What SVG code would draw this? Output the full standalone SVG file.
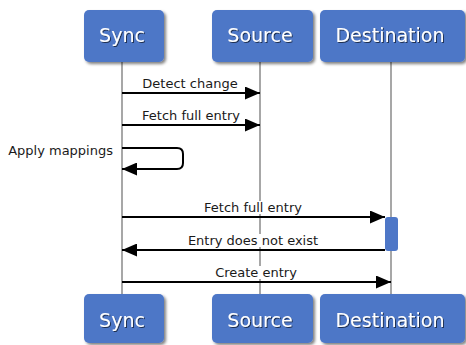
<svg xmlns="http://www.w3.org/2000/svg" width="466" height="345" viewBox="0 0 466 345">
<defs>
<filter id="sh" x="-10%" y="-10%" width="130%" height="140%">
<feGaussianBlur in="SourceAlpha" stdDeviation="1.5"/>
<feOffset dx="2" dy="2" result="b"/>
<feComponentTransfer><feFuncA type="linear" slope="0.5"/></feComponentTransfer>
<feMerge><feMergeNode/><feMergeNode in="SourceGraphic"/></feMerge>
</filter>
<filter id="tsh" x="-10%" y="-20%" width="130%" height="150%">
<feGaussianBlur in="SourceAlpha" stdDeviation="0.6"/>
<feOffset dx="0.8" dy="0.8"/>
<feComponentTransfer><feFuncA type="linear" slope="0.6"/></feComponentTransfer>
<feMerge><feMergeNode/><feMergeNode in="SourceGraphic"/></feMerge>
</filter>
<marker id="ah" markerWidth="15" markerHeight="13" refX="15" refY="6.5" orient="auto" markerUnits="userSpaceOnUse">
<path d="M0,0 L15,6.5 L0,13 Z" fill="#000"/>
</marker>
</defs>
<style>
.box{fill:#4e77c7;filter:url(#sh)}
.bt{font-family:"DejaVu Sans",sans-serif;font-size:19px;fill:#fff;text-anchor:middle;filter:url(#tsh)}
.life{stroke:#8a8a8a;stroke-width:1.5;fill:none}
.msg{stroke:#000;stroke-width:2;fill:none;marker-end:url(#ah)}
.ml{font-family:"DejaVu Sans",sans-serif;font-size:13px;fill:#1a1a1a;text-anchor:middle}
.bg{fill:#fff}
</style>
<rect width="466" height="345" fill="#fff"/>
<g id="lifelines">
<line class="life" x1="122" y1="62" x2="122" y2="294"/>
<line class="life" x1="260" y1="62" x2="260" y2="294"/>
<line class="life" x1="391" y1="62" x2="391" y2="294"/>
</g>
<g id="sync-top"><rect class="box" x="84" y="10" width="80" height="52" rx="5"/><text class="bt" x="122" y="42">Sync</text></g>
<g id="source-top"><rect class="box" x="212" y="10" width="101" height="52" rx="5"/><text class="bt" x="260" y="42">Source</text></g>
<g id="dest-top"><rect class="box" x="320" y="10" width="145" height="52" rx="5"/><text class="bt" x="390" y="42">Destination</text></g>
<g id="sync-bottom"><rect class="box" x="84" y="294" width="80" height="49" rx="5"/><text class="bt" x="122" y="327">Sync</text></g>
<g id="source-bottom"><rect class="box" x="212" y="294" width="101" height="49" rx="5"/><text class="bt" x="260" y="327">Source</text></g>
<g id="dest-bottom"><rect class="box" x="320" y="294" width="145" height="49" rx="5"/><text class="bt" x="390" y="327">Destination</text></g>
<g id="activation"><rect x="385" y="217" width="13" height="34" rx="3" fill="#4e77c7"/></g>
<g id="connectors">
<line class="msg" x1="122" y1="93" x2="260" y2="93"/>
<text class="ml" x="190" y="88">Detect change</text>
<line class="msg" x1="122" y1="125" x2="260" y2="125"/>
<text class="ml" x="191" y="120">Fetch full entry</text>
<path class="msg" d="M122,148 H177 Q183,148 183,154 V163 Q183,169 177,169 H122"/>
<text class="ml" x="113" y="155" style="text-anchor:end">Apply mappings</text>
<line class="msg" x1="122" y1="217" x2="385" y2="217"/>
<rect class="bg" x="252" y="201" width="16" height="13"/>
<text class="ml" x="253" y="212">Fetch full entry</text>
<line class="msg" x1="385" y1="250" x2="122" y2="250"/>
<rect class="bg" x="252" y="234" width="16" height="13"/>
<text class="ml" x="253" y="245">Entry does not exist</text>
<line class="msg" x1="122" y1="282" x2="391" y2="282"/>
<rect class="bg" x="252" y="266" width="16" height="13"/>
<text class="ml" x="256" y="277">Create entry</text>
</g>
</svg>
